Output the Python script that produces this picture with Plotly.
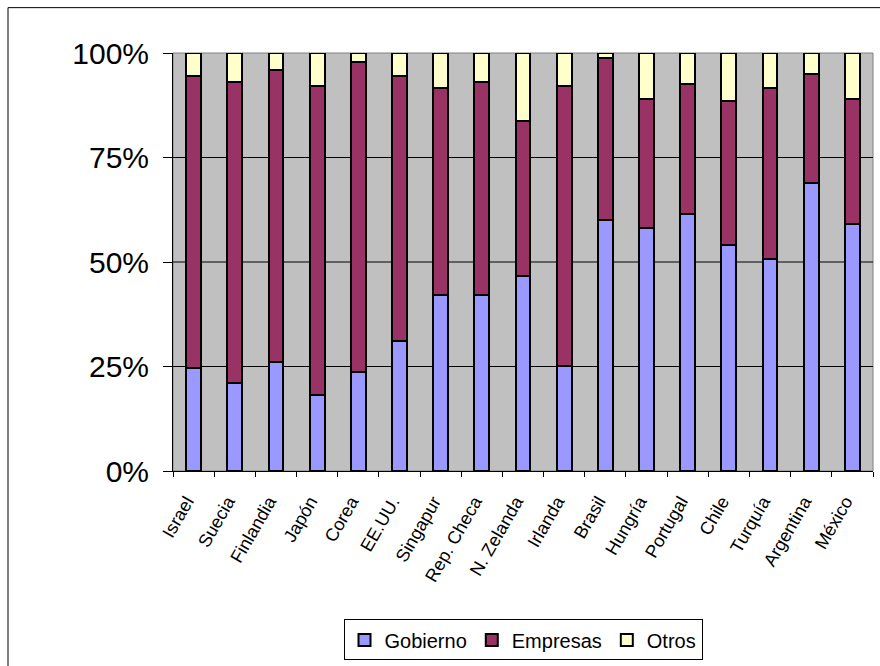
import plotly.graph_objects as go

paises = ["Israel", "Suecia", "Finlandia", "Japón", "Corea", "EE.UU.", "Singapur",
          "Rep. Checa", "N. Zelanda", "Irlanda", "Brasil", "Hungría", "Portugal",
          "Chile", "Turquía", "Argentina", "México"]
gobierno = [24.7, 21.1, 26.1, 18.3, 23.8, 31.2, 42.0, 42.0, 46.6, 25.1, 60.0, 58.2, 61.5, 54.0, 50.8, 68.8, 59.1]
empresas = [69.7, 72.0, 69.8, 73.8, 74.1, 63.2, 49.7, 51.1, 37.2, 67.0, 38.7, 30.7, 31.1, 34.5, 40.9, 26.2, 29.8]
otros = [5.6, 6.9, 4.1, 7.9, 2.1, 5.6, 8.3, 6.9, 16.2, 7.9, 1.3, 11.1, 7.4, 11.5, 8.3, 5.0, 11.1]
y_ticks = [0, 25, 50, 75, 100]
y_labels = ["0%", "25%", "50%", "75%", "100%"]
grid_levels = [25, 50, 75]

series = [("Gobierno", gobierno, "#9999FF"),
          ("Empresas", empresas, "#993366"),
          ("Otros", otros, "#FFFFCC")]

fig = go.Figure()
for name, vals, col in series:
    fig.add_trace(go.Bar(x=paises, y=vals, name=name,
                         marker=dict(color=col, line=dict(color="black", width=2)),
                         hoverinfo="skip"))

shapes = []
# outer chart-area border
shapes.append(dict(type="rect", xref="paper", yref="paper", x0=-0.2357, x1=1.05,
                   y0=-0.55, y1=1.1085, line=dict(color="black", width=1),
                   fillcolor="rgba(0,0,0,0)", layer="below"))
# plot-area border (gray)
shapes.append(dict(type="rect", xref="paper", yref="paper", x0=0, x1=1, y0=0, y1=1,
                   line=dict(color="#808080", width=1), fillcolor="rgba(0,0,0,0)",
                   layer="below"))
for g in grid_levels:
    shapes.append(dict(type="line", xref="paper", yref="y", x0=0, x1=1, y0=g, y1=g,
                       line=dict(color="black", width=1), layer="below"))

fig.update_layout(
    width=880, height=666,
    margin=dict(l=173, r=7, t=53, b=194),
    paper_bgcolor="white", plot_bgcolor="#C0C0C0",
    barmode="stack", bargap=0.64,
    font=dict(family="Liberation Sans, Arial, sans-serif", color="black"),
    shapes=shapes,
    showlegend=True,
    legend=dict(orientation="h", x=0.5, xanchor="center", y=-0.352, yanchor="top",
                bgcolor="white", bordercolor="black", borderwidth=1,
                font=dict(size=20), traceorder="normal"),
    xaxis=dict(showline=True, linecolor="black", linewidth=1, showgrid=False,
               ticks="outside", tickson="boundaries", ticklen=5, tickcolor="black",
               tickangle=-60, tickfont=dict(size=18), ticklabelstandoff=12,
               ticklabelshift=-7, fixedrange=True),
    yaxis=dict(range=[0, 100], tickmode="array", tickvals=y_ticks, ticktext=y_labels,
               showgrid=False, showline=True, linecolor="black", linewidth=1,
               zeroline=False, ticks="outside", ticklen=9, tickcolor="black",
               tickfont=dict(size=30), ticklabelstandoff=8, fixedrange=True),
)

fig.write_html("out.html")
